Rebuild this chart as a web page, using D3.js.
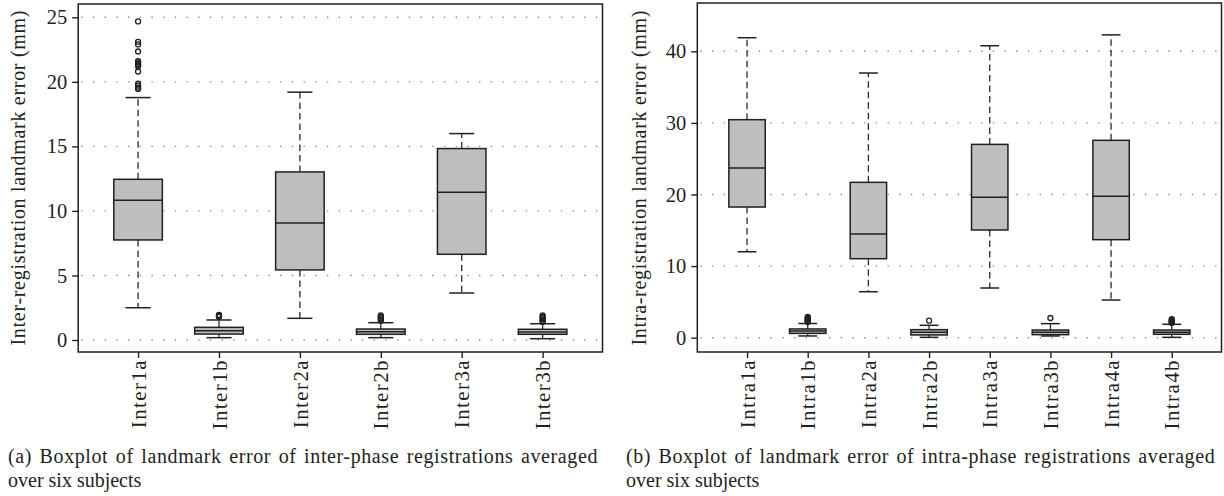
<!DOCTYPE html>
<html><head><meta charset="utf-8">
<script src="https://cdn.jsdelivr.net/npm/d3@7"></script>
<style>
body{margin:0;background:#fff}
svg{display:block}
text{font-family:"Liberation Serif","Times New Roman",serif;fill:#231f20}
</style>
</head><body>
<svg id="c" width="1224" height="496"></svg>
<script>
// ---------- data: panel (a) inter-phase ----------
const interCats = ["Inter1a","Inter1b","Inter2a","Inter2b","Inter3a","Inter3b"];
const interLow  = [2.50, 0.18, 1.68, 0.18, 3.64, 0.10];
const interQ1   = [7.75, 0.46, 5.43, 0.44, 6.64, 0.44];
const interMed  = [10.83, 0.72, 9.07, 0.64, 11.45, 0.62];
const interQ3   = [12.45, 0.98, 13.02, 0.85, 14.83, 0.83];
const interHigh = [18.78, 1.55, 19.20, 1.34, 15.99, 1.26];
const interOut  = [
  [24.68, 23.10, 22.90, 22.35, 21.60, 21.50, 21.40, 21.30, 21.20, 20.80, 19.85, 19.70, 19.55, 19.45],
  [1.80, 1.85, 1.90, 1.94],
  [],
  [1.50, 1.60, 1.70, 1.80, 1.90],
  [],
  [1.40, 1.50, 1.60, 1.70, 1.80, 1.90]
];
const interTicks = [0, 5, 10, 15, 20, 25];

// ---------- data: panel (b) intra-phase ----------
const intraCats = ["Intra1a","Intra1b","Intra2a","Intra2b","Intra3a","Intra3b","Intra4a","Intra4b"];
const intraLow  = [12.00, 0.24, 6.42, 0.05, 6.94, 0.24, 5.26, 0.05];
const intraQ1   = [18.25, 0.60, 11.03, 0.38, 15.04, 0.42, 13.69, 0.47];
const intraMed  = [23.70, 0.93, 14.48, 0.75, 19.60, 0.75, 19.75, 0.75];
const intraQ3   = [30.45, 1.22, 21.70, 1.12, 27.00, 1.07, 27.57, 1.07];
const intraHigh = [41.90, 1.98, 36.97, 1.73, 40.78, 1.96, 42.30, 1.87];
const intraOut  = [
  [],
  [2.20, 2.35, 2.50, 2.60, 2.75, 2.90],
  [],
  [2.37],
  [],
  [2.75],
  [],
  [2.05, 2.15, 2.25, 2.35, 2.45, 2.60]
];
const intraTicks = [0, 10, 20, 30, 40];

const yTitles = ["Inter-registration landmark error (mm)", "Intra-registration landmark error (mm)"];
const captions = [
  ["(a)  Boxplot of landmark error of inter-phase registrations averaged", "over six subjects"],
  ["(b)  Boxplot of landmark error of intra-phase registrations averaged", "over six subjects"]
];

const svg = d3.select("#c");
const INK = "#231f20";
const BOTTOM = 352;

function panel(p) {
  const n = p.cats.length;
  const x = d3.scaleLinear().domain([0.5 - 0.04*n, n + 0.5 + 0.04*n]).range([p.left, p.right]);
  const y = d3.scaleLinear().domain(p.yDomain).range([BOTTOM, p.top]);
  const g = svg.append("g");
  const unit = x(1) - x(0);

  // dotted horizontal grid
  g.selectAll("line.grid").data(p.ticks).join("line")
    .attr("class","grid")
    .attr("x1", p.left + 3).attr("x2", p.right)
    .attr("y1", d => y(d)).attr("y2", d => y(d))
    .attr("stroke", "#8c8c8c").attr("stroke-width", 1.4)
    .attr("stroke-dasharray", "1.4,10.3");

  const idx = d3.range(n);
  const bw = 0.6 * unit, cw = 0.31 * unit;

  // whiskers (dashed)
  g.selectAll("line.wu").data(idx).join("line")
    .attr("x1", i => x(i+1)).attr("x2", i => x(i+1))
    .attr("y1", i => y(p.q3[i])).attr("y2", i => y(p.high[i]))
    .attr("stroke", "#2b2b2b").attr("stroke-width", 1.3).attr("stroke-dasharray", "6.5,4");
  g.selectAll("line.wl").data(idx).join("line")
    .attr("x1", i => x(i+1)).attr("x2", i => x(i+1))
    .attr("y1", i => y(p.q1[i])).attr("y2", i => y(p.low[i]))
    .attr("stroke", "#2b2b2b").attr("stroke-width", 1.3).attr("stroke-dasharray", "6.5,4");
  // staples
  [p.high, p.low].forEach(arr => {
    g.selectAll(null).data(idx).join("line")
      .attr("x1", i => x(i+1) - cw/2).attr("x2", i => x(i+1) + cw/2)
      .attr("y1", i => y(arr[i])).attr("y2", i => y(arr[i]))
      .attr("stroke", INK).attr("stroke-width", 1.5);
  });
  // boxes
  g.selectAll("rect.box").data(idx).join("rect")
    .attr("x", i => x(i+1) - bw/2).attr("width", bw)
    .attr("y", i => y(p.q3[i])).attr("height", i => y(p.q1[i]) - y(p.q3[i]))
    .attr("fill", "#bebebe").attr("stroke", INK).attr("stroke-width", 1.5);
  // medians
  g.selectAll("line.med").data(idx).join("line")
    .attr("x1", i => x(i+1) - bw/2).attr("x2", i => x(i+1) + bw/2)
    .attr("y1", i => y(p.med[i])).attr("y2", i => y(p.med[i]))
    .attr("stroke", INK).attr("stroke-width", 1.5);
  // outliers
  const pts = [];
  p.out.forEach((arr, i) => arr.forEach(v => pts.push({i, v})));
  g.selectAll("circle.out").data(pts).join("circle")
    .attr("cx", d => x(d.i+1)).attr("cy", d => y(d.v)).attr("r", 2.5)
    .attr("fill", "none").attr("stroke", INK).attr("stroke-width", 1.3);

  // frame
  g.append("rect").attr("x", p.left).attr("y", p.top)
    .attr("width", p.right - p.left).attr("height", BOTTOM - p.top)
    .attr("fill", "none").attr("stroke", INK).attr("stroke-width", 1.5);

  // y axis
  const ya = g.append("g").attr("transform", `translate(${p.left},0)`)
    .call(d3.axisLeft(y).tickValues(p.ticks).tickSize(6).tickPadding(5).tickFormat(d3.format("d")));
  ya.attr("font-family", null).attr("font-size", null);
  ya.select(".domain").remove();
  ya.selectAll("line").attr("stroke", INK).attr("stroke-width", 1.4);
  ya.selectAll("text").attr("font-size", 20.5).attr("fill", INK);

  // x axis
  const xa = g.append("g").attr("transform", `translate(0,${BOTTOM})`)
    .call(d3.axisBottom(x).tickValues(d3.range(1, n+1)).tickSize(6).tickFormat(d => p.cats[d-1]));
  xa.attr("font-family", null).attr("font-size", null);
  xa.select(".domain").remove();
  xa.selectAll("line").attr("stroke", INK).attr("stroke-width", 1.4);
  xa.selectAll("text").attr("font-size", 21).attr("fill", INK)
    .attr("letter-spacing", 1.4)
    .attr("transform", "rotate(-90)").attr("x", -7).attr("y", 0).attr("dy", "0.34em")
    .attr("text-anchor", "end");

  // y title
  g.append("text").attr("transform", `translate(${p.titleX},178) rotate(-90)`)
    .attr("text-anchor", "middle").attr("font-size", 20)
    .attr("textLength", 335).attr("lengthAdjust", "spacing")
    .text(p.title);

  // caption, first line justified
  const c1 = g.append("text").attr("x", p.capX).attr("y", 463).attr("font-size", 20)
    .attr("letter-spacing", 0.6).text(p.caption[0]);
  const natural = c1.node().getComputedTextLength();
  const spaces = (p.caption[0].match(/ /g) || []).length;
  c1.attr("word-spacing", Math.max(0, (p.capW - natural) / spaces));
  g.append("text").attr("x", p.capX).attr("y", 487).attr("font-size", 20).text(p.caption[1]);
}

panel({cats: interCats, low: interLow, q1: interQ1, med: interMed, q3: interQ3, high: interHigh,
  out: interOut, ticks: interTicks, yDomain: [-0.93, 26.03], left: 78.2, right: 602.5, top: 4,
  title: yTitles[0], titleX: 24.5, caption: captions[0], capX: 8, capW: 592});
panel({cats: intraCats, low: intraLow, q1: intraQ1, med: intraMed, q3: intraQ3, high: intraHigh,
  out: intraOut, ticks: intraTicks, yDomain: [-2.0, 46.75], left: 697.3, right: 1221.5, top: 3,
  title: yTitles[1], titleX: 646, caption: captions[1], capX: 626, capW: 591});
</script>
</body></html>
